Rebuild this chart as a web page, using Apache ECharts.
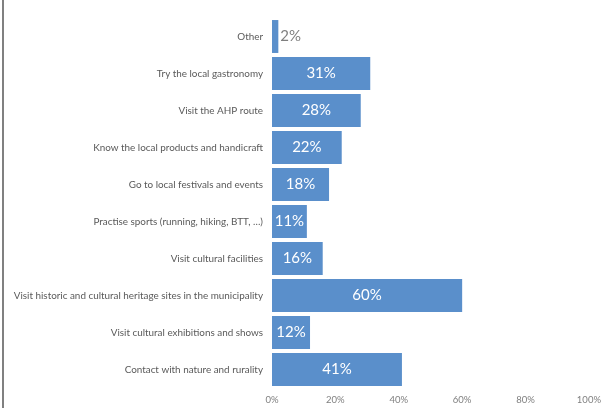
<!DOCTYPE html>
<html>
<head>
<meta charset="utf-8">
<script src="https://cdn.jsdelivr.net/npm/echarts@6/dist/echarts.min.js"></script>
<style>
  html, body { margin: 0; padding: 0; background: #fff; }
  #chart { width: 604px; height: 408px; }
</style>
</head>
<body>
<div id="chart"></div>
<script>
// Reasons for visiting, listed bottom to top as the category axis draws them
const categories = [
  'Contact with nature and rurality',
  'Visit cultural exhibitions and shows',
  'Visit historic and cultural heritage sites in the municipality',
  'Visit cultural facilities',
  'Practise sports (running, hiking, BTT, …)',
  'Go to local festivals and events',
  'Know the local products and handicraft',
  'Visit the AHP route',
  'Try the local gastronomy',
  'Other'
];
// Share of respondents, in percent
const shares = [41, 12, 60, 16, 11, 18, 22, 28, 31, 2];
// Bars too narrow to hold their label get it outside, in grey
const outsideLabel = ['Other'];
const xTicks = [0, 20, 40, 60, 80, 100];

const chart = echarts.init(document.getElementById('chart'), null, { renderer: 'canvas' });

const seriesData = shares.map((v, i) => {
  const item = { value: v };
  if (outsideLabel.includes(categories[i])) {
    item.label = { position: 'right', distance: 2, color: '#7f7f7f' };
  }
  return item;
});

chart.setOption({
  animation: false,
  textStyle: { fontFamily: 'Lato' },
  grid: { left: 272, right: 12, top: 18, bottom: 20, containLabel: false },
  xAxis: {
    type: 'value',
    min: xTicks[0],
    max: xTicks[xTicks.length - 1],
    interval: xTicks[1] - xTicks[0],
    axisLine: { show: false },
    axisTick: { show: false },
    splitLine: { show: false },
    axisLabel: {
      formatter: v => v + '%',
      color: '#7f7f7f',
      fontSize: 9.5,
      margin: 7,
      fontFamily: 'Lato'
    }
  },
  yAxis: {
    type: 'category',
    data: categories,
    axisLine: { show: false },
    axisTick: { show: false },
    axisLabel: {
      color: '#595959',
      fontSize: 9.9,
      margin: 9,
      fontFamily: 'Lato'
    }
  },
  series: [{
    type: 'bar',
    data: seriesData,
    barCategoryGap: '11%',
    itemStyle: { color: '#5a8fcb' },
    label: {
      show: true,
      position: 'inside',
      formatter: p => p.value + '%',
      color: '#ffffff',
      fontSize: 15,
      fontFamily: 'Lato'
    }
  }],
  graphic: [{
    type: 'line',
    shape: { x1: 3, y1: 0, x2: 3, y2: 408 },
    style: { stroke: '#808080', lineWidth: 2 }
  }]
});
</script>
</body>
</html>
